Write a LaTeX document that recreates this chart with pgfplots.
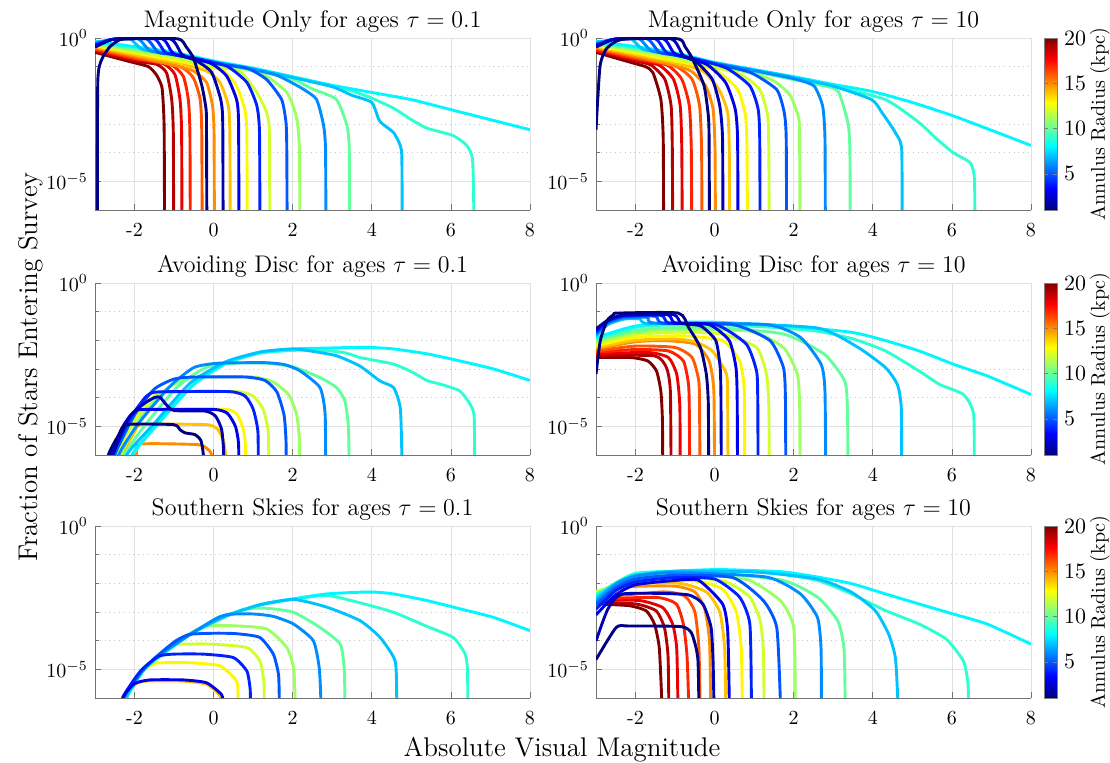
\documentclass[border=0pt]{standalone}
\usepackage{pgfplots}
\pgfplotsset{compat=1.18}
% jet colours for annulus radius 1..20 kpc
\definecolor{j1}{rgb}{0,0,0.5}
\definecolor{j2}{rgb}{0,0,0.71}
\definecolor{j3}{rgb}{0,0,0.92}
\definecolor{j4}{rgb}{0,0.13,1}
\definecolor{j5}{rgb}{0,0.34,1}
\definecolor{j6}{rgb}{0,0.55,1}
\definecolor{j7}{rgb}{0,0.76,1}
\definecolor{j8}{rgb}{0,0.97,1}
\definecolor{j9}{rgb}{0.18,1,0.82}
\definecolor{j10}{rgb}{0.39,1,0.61}
\definecolor{j11}{rgb}{0.61,1,0.39}
\definecolor{j12}{rgb}{0.82,1,0.18}
\definecolor{j13}{rgb}{1,0.97,0}
\definecolor{j14}{rgb}{1,0.76,0}
\definecolor{j15}{rgb}{1,0.55,0}
\definecolor{j16}{rgb}{1,0.34,0}
\definecolor{j17}{rgb}{1,0.13,0}
\definecolor{j18}{rgb}{0.92,0,0}
\definecolor{j19}{rgb}{0.71,0,0}
\definecolor{j20}{rgb}{0.5,0,0}
\pgfplotsset{
  colormap={jetm}{rgb(0cm)=(0,0,0.5) rgb(1cm)=(0,0,1) rgb(3cm)=(0,1,1) rgb(5cm)=(1,1,0) rgb(7cm)=(1,0,0) rgb(8cm)=(0.5,0,0)},
  panel/.style={
    scale only axis, width=217.5pt, height=86pt,
    xmin=-3, xmax=8, ymin=-6, ymax=0,
    xtick={-2,0,2,4,6,8}, xticklabels={-2,0,2,4,6,8},
    ytick={-5,0}, yticklabels={$10^{-5}$,$10^{0}$},
    minor ytick={-4,-3,-2,-1},
    grid=both,
    major grid style={black!12, line width=0.4pt},
    minor grid style={black!22, dotted, line width=0.4pt},
    axis x line*=bottom, axis y line*=left,
    axis line style={black!55, line width=0.4pt},
    tick style={black!55, line width=0.4pt},
    tick align=inside, major tick length=3pt, minor tick length=2pt,
    tick label style={font=\fontsize{10}{12}\selectfont},
    xticklabel style={yshift=-3pt},
    title style={anchor=base, yshift=-1pt, font=\fontsize{12}{14}\selectfont},
    every axis plot/.append style={line width=1.45pt, line join=round, no markers, smooth, tension=0.35},
  },
  cbar/.style={
    colorbar, colormap name=jetm, point meta min=1, point meta max=20,
    colorbar style={at={(parent axis.north east)}, anchor=north west, xshift=-2pt,
      width=6.5pt, ytick={5,10,15,20},
      yticklabel style={font=\fontsize{10.5}{12}\selectfont},
      ylabel={Annulus Radius (kpc)}, ylabel near ticks, yticklabel pos=right,
      ylabel shift=-5pt,
      ylabel style={font=\fontsize{10}{12}\selectfont},
      axis line style={black!50}, tick style={black!50}, major tick length=2pt},
  },
}
\newcommand\cv[2]{\addplot[draw=j#1] coordinates {#2};}

\begin{document}
\begin{tikzpicture}
\useasboundingbox (0pt,0pt) rectangle (555pt,-381.5pt);
\node[rotate=90, anchor=base, font=\fontsize{13.5}{16}\selectfont] at (18.5pt,-183.5pt) {Fraction of Stars Entering Survey};
\node[anchor=base, font=\fontsize{13.5}{16}\selectfont] at (281pt,-378.5pt) {Absolute Visual Magnitude};

% ---------------- Magnitude Only, tau = 0.1
\begin{axis}[panel, at={(47.5pt,-19pt)}, anchor=north west, title={Magnitude Only for ages $\tau = 0.1$}]
\cv{20}{(-3,-0.5)(-2.16,-0.81)(-1.65,-1.0)(-1.44,-1.3)(-1.31,-1.7)(-1.27,-2.4)(-1.25,-3.3)(-1.24,-7)}
\cv{19}{(-3,-0.46)(-2,-0.8)(-1.44,-0.92)(-1.19,-1.22)(-1.06,-2.15)(-1.02,-3.3)(-1.01,-7)}
\cv{18}{(-3,-0.43)(-2,-0.75)(-1.27,-0.9)(-0.98,-1.27)(-0.85,-2.15)(-0.81,-3.3)(-0.8,-7)}
\cv{17}{(-3,-0.4)(-2,-0.72)(-1.1,-0.92)(-0.77,-1.33)(-0.64,-2.15)(-0.6,-3.3)(-0.59,-7)}
\cv{16}{(-3,-0.36)(-2,-0.68)(-0.85,-1.0)(-0.51,-1.4)(-0.34,-2.15)(-0.3,-3.3)(-0.29,-7)}
\cv{15}{(-3,-0.33)(-2,-0.63)(-1,-0.95)(-0.51,-1.15)(-0.18,-1.55)(-0.03,-2.35)(0.01,-3.3)(0.02,-7)}
\cv{14}{(-3,-0.3)(-2,-0.58)(-1,-0.85)(-0.18,-1.15)(0.16,-1.55)(0.37,-2.35)(0.41,-3.3)(0.42,-7)}
\cv{13}{(-3,-0.27)(-2,-0.52)(-1,-0.78)(0,-1.05)(0.25,-1.15)(0.58,-1.67)(0.79,-2.5)(0.84,-3.3)(0.85,-7)}
\cv{12}{(-3,-0.24)(-2,-0.47)(-1,-0.7)(0,-1.0)(0.67,-1.17)(1.09,-1.9)(1.34,-2.6)(1.41,-3.3)(1.42,-7)}
\cv{11}{(-3,-0.21)(-2,-0.42)(-1,-0.63)(0,-0.93)(1.17,-1.21)(1.85,-1.9)(2.1,-2.8)(2.17,-3.9)(2.18,-7)}
\cv{10}{(-3,-0.18)(-2,-0.37)(-1,-0.58)(0,-0.88)(1,-1.12)(2,-1.44)(2.5,-1.78)(3.1,-2.14)(3.37,-3.05)(3.43,-3.9)(3.44,-7)}
\cv{9}{(-3,-0.15)(-2,-0.33)(-1,-0.53)(0,-0.83)(1,-1.08)(2,-1.38)(3,-1.68)(3.5,-1.85)(4,-2.1)(4.55,-2.45)(5,-2.85)(5.4,-3.15)(6.05,-3.4)(6.4,-3.75)(6.55,-4.3)(6.59,-7)}
\cv{8}{(-3,-0.12)(-2,-0.3)(-1,-0.5)(0,-0.8)(1,-1.05)(2,-1.35)(3,-1.65)(4,-1.9)(5,-2.15)(6,-2.5)(7,-2.85)(8,-3.2)}
\cv{7}{(-3,-0.15)(-2.6,-0.06)(-2.35,-0.03)(-2.1,-0.03)(-1.8,-0.4)(-1,-0.55)(0,-0.83)(1,-1.08)(2,-1.38)(3,-1.7)(3.5,-2.0)(4,-2.25)(4.2,-2.9)(4.55,-3.3)(4.72,-3.75)(4.76,-4.2)(4.77,-7)}
\cv{6}{(-3,-0.2)(-2.6,-0.06)(-2.35,-0.03)(-1.9,-0.03)(-1.6,-0.45)(-1,-0.57)(0,-0.85)(1,-1.1)(1.6,-1.3)(2.2,-1.73)(2.6,-2.14)(2.78,-3.05)(2.83,-3.9)(2.84,-7)}
\cv{5}{(-3,-0.22)(-2.6,-0.06)(-2.35,-0.03)(-1.7,-0.03)(-1.4,-0.5)(-1,-0.58)(0,-0.88)(0.84,-1.05)(1.34,-1.45)(1.72,-2.15)(1.83,-2.95)(1.85,-3.9)(1.86,-7)}
\cv{4}{(-3,-0.25)(-2.6,-0.06)(-2.35,-0.03)(-1.5,-0.03)(-1.2,-0.52)(-0.5,-0.7)(0.33,-0.98)(0.84,-1.55)(1.09,-2.35)(1.16,-3.3)(1.17,-7)}
\cv{3}{(-3,-0.28)(-2.6,-0.06)(-2.35,-0.03)(-1.3,-0.03)(-1.0,-0.55)(-0.09,-0.87)(0.33,-1.33)(0.58,-2.15)(0.63,-2.95)(0.64,-7)}
\cv{2}{(-3,-0.32)(-2.6,-0.06)(-2.35,-0.03)(-1.1,-0.03)(-0.8,-0.58)(-0.43,-0.8)(-0.05,-1.2)(0.18,-2.15)(0.23,-2.95)(0.24,-7)}
\cv{1}{(-2.94,-7)(-2.93,-1.55)(-2.83,-0.75)(-2.62,-0.3)(-2.37,-0.06)(-2.1,-0.03)(-0.9,-0.03)(-0.7,-0.3)(-0.51,-0.7)(-0.3,-1.65)(-0.19,-2.5)(-0.18,-3.3)(-0.17,-7)}
\end{axis}

% ---------------- Magnitude Only, tau = 10
\begin{axis}[panel, cbar, at={(298pt,-19pt)}, anchor=north west, title={Magnitude Only for ages $\tau = 10$}]
\cv{20}{(-3,-0.5)(-2.2,-0.82)(-1.75,-1.0)(-1.56,-1.21)(-1.36,-2.14)(-1.3,-3.5)(-1.29,-7)}
\cv{19}{(-3,-0.46)(-2,-0.8)(-1.6,-0.95)(-1.26,-1.44)(-1.1,-2.37)(-1.07,-3.9)(-1.06,-7)}
\cv{18}{(-3,-0.43)(-2,-0.76)(-1.4,-0.95)(-1.04,-1.44)(-0.87,-2.37)(-0.83,-3.9)(-0.82,-7)}
\cv{17}{(-3,-0.4)(-2,-0.72)(-1.2,-0.95)(-0.83,-1.44)(-0.64,-2.37)(-0.59,-3.9)(-0.58,-7)}
\cv{16}{(-3,-0.36)(-2,-0.68)(-1,-0.98)(-0.57,-1.44)(-0.38,-2.37)(-0.33,-3.9)(-0.32,-7)}
\cv{15}{(-3,-0.33)(-2,-0.63)(-1,-0.97)(-0.6,-1.15)(-0.23,-1.67)(-0.04,-2.48)(0.01,-3.9)(0.02,-7)}
\cv{14}{(-3,-0.3)(-2,-0.58)(-1,-0.87)(-0.3,-1.15)(0.11,-1.8)(0.33,-2.6)(0.37,-3.9)(0.38,-7)}
\cv{13}{(-3,-0.27)(-2,-0.52)(-1,-0.8)(0,-1.1)(0.58,-1.8)(0.78,-2.7)(0.82,-3.9)(0.83,-7)}
\cv{12}{(-3,-0.24)(-2,-0.47)(-1,-0.72)(0,-1.02)(0.7,-1.3)(1.14,-1.8)(1.34,-2.7)(1.37,-3.9)(1.38,-7)}
\cv{11}{(-3,-0.21)(-2,-0.42)(-1,-0.65)(0,-0.95)(1,-1.25)(1.5,-1.5)(1.91,-2.0)(2.13,-2.83)(2.15,-3.9)(2.16,-7)}
\cv{10}{(-3,-0.18)(-2,-0.37)(-1,-0.6)(0,-0.9)(1,-1.17)(2,-1.45)(2.7,-1.65)(3.12,-1.85)(3.37,-2.95)(3.42,-3.9)(3.43,-7)}
\cv{9}{(-3,-0.15)(-2,-0.33)(-1,-0.55)(0,-0.88)(1,-1.13)(2,-1.4)(3,-1.68)(4.32,-2.15)(5.17,-2.95)(5.6,-3.5)(6.03,-4.0)(6.46,-4.35)(6.57,-4.9)(6.58,-7)}
\cv{8}{(-3,-0.12)(-2,-0.3)(-1,-0.52)(0,-0.85)(1,-1.1)(2,-1.35)(3,-1.62)(4,-1.87)(5,-2.25)(6,-2.7)(7,-3.22)(8,-3.75)}
\cv{7}{(-3,-0.15)(-2.6,-0.06)(-2.35,-0.03)(-2.1,-0.03)(-1.8,-0.4)(-1,-0.57)(0,-0.87)(1,-1.12)(2,-1.38)(3,-1.68)(3.97,-2.15)(4.23,-2.6)(4.57,-3.3)(4.73,-3.9)(4.74,-7)}
\cv{6}{(-3,-0.2)(-2.6,-0.06)(-2.35,-0.03)(-1.9,-0.03)(-1.6,-0.45)(-1,-0.58)(0,-0.88)(1,-1.14)(2,-1.42)(2.51,-1.67)(2.73,-2.37)(2.79,-3.5)(2.8,-7)}
\cv{5}{(-3,-0.22)(-2.6,-0.06)(-2.35,-0.03)(-1.7,-0.03)(-1.4,-0.5)(-1,-0.6)(0,-0.9)(0.9,-1.2)(1.57,-1.8)(1.76,-2.6)(1.81,-3.5)(1.82,-7)}
\cv{4}{(-3,-0.25)(-2.6,-0.06)(-2.35,-0.03)(-1.5,-0.03)(-1.2,-0.52)(-0.5,-0.72)(0.3,-1.05)(0.89,-1.67)(1.1,-2.48)(1.14,-3.5)(1.15,-7)}
\cv{3}{(-3,-0.28)(-2.6,-0.06)(-2.35,-0.03)(-1.3,-0.03)(-1,-0.55)(-0.2,-0.92)(0.28,-1.56)(0.52,-2.48)(0.58,-3.5)(0.59,-7)}
\cv{2}{(-3,-0.32)(-2.6,-0.06)(-2.35,-0.03)(-1.1,-0.03)(-0.8,-0.6)(-0.45,-0.85)(-0.06,-1.44)(0.13,-2.37)(0.2,-3.5)(0.21,-7)}
\cv{1}{(-3,-3.2)(-2.9,-1.0)(-2.75,-0.4)(-2.5,-0.12)(-2.2,-0.03)(-0.92,-0.03)(-0.75,-0.3)(-0.57,-0.7)(-0.27,-1.65)(-0.16,-2.7)(-0.14,-3.5)(-0.13,-7)}
\end{axis}

% ---------------- Avoiding Disc, tau = 0.1
\begin{axis}[panel, at={(47.5pt,-141.5pt)}, anchor=north west, title={Avoiding Disc for ages $\tau = 0.1$}]
\cv{15}{(-2.0,-7)(-1.95,-6.0)(-1.86,-5.62)(-0.4,-5.64)(-0.15,-5.8)(-0.05,-6.0)(-0.04,-7)}
\cv{14}{(-2.35,-7)(-2.3,-6.0)(-2.0,-5.2)(-1.8,-4.94)(-0.2,-4.94)(0.1,-5.1)(0.25,-5.5)(0.3,-6.0)(0.31,-7)}
\cv{13}{(-2.55,-7)(-2.5,-6.0)(-2.1,-4.9)(-1.8,-4.45)(-1.4,-4.41)(0.3,-4.41)(0.6,-4.6)(0.75,-5.1)(0.8,-5.6)(0.81,-7)}
\cv{12}{(-2.5,-7)(-2.45,-6.0)(-2.0,-4.8)(-1.5,-3.95)(-1.1,-3.8)(0.6,-3.79)(1.0,-3.95)(1.25,-4.4)(1.38,-5.2)(1.4,-7)}
\cv{11}{(-2.4,-7)(-2.35,-6.0)(-1.85,-4.7)(-1.3,-3.8)(-0.8,-3.4)(-0.2,-3.28)(1.0,-3.28)(1.5,-3.45)(1.9,-3.9)(2.1,-4.6)(2.17,-5.5)(2.18,-7)}
\cv{10}{(-2.3,-7)(-2.25,-6.0)(-1.7,-4.9)(-0.9,-3.6)(-0.2,-2.95)(0.5,-2.8)(1.34,-2.8)(2.02,-2.93)(2.69,-3.3)(3.11,-3.65)(3.32,-4.12)(3.41,-5.06)(3.43,-7)}
\cv{9}{(-2.1,-7)(-2.05,-6.0)(-1.36,-4.85)(-0.51,-3.56)(0.33,-2.8)(1.17,-2.45)(2.02,-2.35)(2.86,-2.36)(3.37,-2.45)(3.7,-2.6)(4.55,-2.83)(5.05,-3.13)(5.39,-3.4)(5.81,-3.56)(6.23,-3.77)(6.49,-4.24)(6.59,-4.7)(6.6,-7)}
\cv{8}{(-2.12,-7)(-2.07,-6.0)(-1.36,-4.82)(-0.51,-3.54)(0.33,-2.78)(1.17,-2.42)(2.02,-2.3)(2.86,-2.27)(3.5,-2.25)(4.0,-2.25)(4.55,-2.3)(5.39,-2.47)(6.23,-2.72)(7.08,-3.0)(8,-3.4)}
\cv{7}{(-2.25,-7)(-2.2,-6.0)(-1.5,-4.9)(-0.6,-3.5)(0.3,-2.75)(1.2,-2.4)(2.0,-2.3)(2.44,-2.37)(3.11,-2.54)(3.7,-2.9)(4.21,-3.42)(4.55,-3.65)(4.72,-4.36)(4.76,-6.0)(4.77,-7)}
\cv{6}{(-2.45,-7)(-2.4,-6.0)(-1.9,-4.9)(-1.1,-3.6)(-0.5,-2.95)(0.1,-2.8)(1.3,-2.78)(1.8,-2.85)(2.19,-3.07)(2.69,-3.65)(2.82,-4.59)(2.83,-7)}
\cv{5}{(-2.55,-7)(-2.5,-6.0)(-2.0,-4.6)(-1.5,-3.7)(-1.0,-3.35)(-0.5,-3.28)(0.8,-3.28)(1.3,-3.4)(1.6,-3.8)(1.78,-4.6)(1.83,-5.5)(1.84,-7)}
\cv{4}{(-2.6,-7)(-2.55,-6.0)(-2.1,-4.7)(-1.7,-3.95)(-1.4,-3.8)(0.4,-3.79)(0.8,-3.95)(1.0,-4.4)(1.12,-5.2)(1.13,-7)}
\cv{3}{(-2.65,-7)(-2.6,-6.0)(-2.25,-4.9)(-1.95,-4.45)(-1.6,-4.41)(0.0,-4.41)(0.35,-4.55)(0.55,-5.0)(0.63,-5.6)(0.64,-7)}
\cv{2}{(-2.62,-7)(-2.55,-6.0)(-2.15,-4.7)(-1.75,-4.2)(-1.5,-4.0)(-1.36,-3.98)(-1.2,-4.24)(-1.0,-4.45)(-0.2,-4.47)(0.05,-4.65)(0.2,-5.1)(0.25,-5.8)(0.26,-7)}
\cv{1}{(-2.68,-7)(-2.66,-6.0)(-2.4,-5.3)(-2.2,-4.94)(-1.02,-4.94)(-0.85,-5.12)(-0.72,-5.23)(-0.47,-5.29)(-0.32,-5.5)(-0.26,-6.0)(-0.25,-7)}
\end{axis}

% ---------------- Avoiding Disc, tau = 10
\begin{axis}[panel, cbar, at={(298pt,-141.5pt)}, anchor=north west, title={Avoiding Disc for ages $\tau = 10$}]
\cv{20}{(-3,-2.6)(-2.12,-2.6)(-1.69,-2.72)(-1.47,-3.07)(-1.36,-3.77)(-1.32,-4.8)(-1.31,-7)}
\cv{19}{(-3,-2.54)(-1.52,-2.54)(-1.22,-2.95)(-1.12,-3.77)(-1.1,-7)}
\cv{18}{(-3,-2.48)(-1.69,-2.42)(-1.17,-2.6)(-0.96,-3.18)(-0.88,-4.3)(-0.87,-7)}
\cv{17}{(-3,-2.42)(-2,-2.32)(-1.17,-2.37)(-0.79,-2.72)(-0.66,-3.54)(-0.64,-4.5)(-0.63,-7)}
\cv{16}{(-3,-2.37)(-2,-2.2)(-1.0,-2.25)(-0.57,-2.6)(-0.4,-3.42)(-0.38,-4.5)(-0.37,-7)}
\cv{15}{(-3,-2.3)(-2,-2.05)(-1.26,-2.01)(-0.49,-2.13)(-0.14,-2.72)(-0.02,-3.77)(0,-7)}
\cv{14}{(-3,-2.25)(-2,-2.0)(-1,-1.95)(-0.5,-2.05)(-0.06,-2.37)(0.3,-3.18)(0.33,-4.3)(0.34,-7)}
\cv{13}{(-3,-2.19)(-2,-1.9)(-0.83,-1.84)(0.2,-2.01)(0.63,-2.72)(0.75,-3.77)(0.76,-7)}
\cv{12}{(-3,-2.1)(-2,-1.8)(-1,-1.72)(0.2,-1.78)(1.06,-2.25)(1.31,-3.18)(1.37,-4.3)(1.38,-7)}
\cv{11}{(-3,-2.05)(-2,-1.72)(-1,-1.62)(0.89,-1.68)(1.74,-2.25)(2.09,-3.18)(2.15,-4.3)(2.16,-7)}
\cv{10}{(-3,-2.0)(-2,-1.65)(-1,-1.55)(0.03,-1.55)(1.74,-1.78)(2.77,-2.48)(3.29,-3.42)(3.36,-4.5)(3.37,-7)}
\cv{9}{(-3,-1.95)(-2,-1.55)(-1,-1.45)(0,-1.45)(1.5,-1.55)(2.6,-1.68)(3.5,-1.95)(4.32,-2.37)(5.17,-3.07)(5.69,-3.54)(6.29,-3.89)(6.55,-4.59)(6.56,-7)}
\cv{8}{(-3,-1.9)(-2,-1.5)(-0.83,-1.37)(0.03,-1.37)(1.74,-1.49)(3.46,-1.72)(4.32,-2.01)(5.17,-2.37)(6.03,-2.83)(6.89,-3.24)(8,-3.89)}
\cv{7}{(-3,-1.85)(-2.7,-1.45)(-2.3,-1.26)(-1.9,-1.25)(-1.7,-1.42)(0,-1.4)(2.6,-1.57)(3.63,-2.25)(4.32,-2.95)(4.62,-3.54)(4.72,-4.36)(4.73,-7)}
\cv{6}{(-3,-1.8)(-2.7,-1.4)(-2.3,-1.22)(-1.7,-1.2)(-1.5,-1.4)(1.31,-1.45)(2.17,-1.9)(2.69,-2.83)(2.79,-3.77)(2.81,-7)}
\cv{5}{(-3,-1.75)(-2.7,-1.36)(-2.3,-1.18)(-1.5,-1.16)(-1.3,-1.4)(0.46,-1.45)(1.4,-2.01)(1.74,-2.95)(1.79,-4)(1.8,-7)}
\cv{4}{(-3,-1.7)(-2.7,-1.33)(-2.3,-1.15)(-1.35,-1.13)(-1.15,-1.4)(0.03,-1.45)(0.8,-2.13)(1.06,-3.07)(1.09,-4)(1.1,-7)}
\cv{3}{(-3,-1.65)(-2.7,-1.3)(-2.3,-1.12)(-1.2,-1.1)(-1.0,-1.4)(-0.14,-1.45)(0.37,-2.01)(0.54,-2.95)(0.57,-4)(0.58,-7)}
\cv{2}{(-3,-1.6)(-2.7,-1.3)(-2.3,-1.12)(-1.05,-1.1)(-0.85,-1.4)(-0.35,-1.5)(0.03,-2.01)(0.14,-2.95)(0.16,-4)(0.17,-7)}
\cv{1}{(-3,-3.18)(-2.89,-2.0)(-2.72,-1.31)(-2.55,-1.1)(-2.46,-1.05)(-0.92,-1.05)(-0.66,-1.55)(-0.36,-2.25)(-0.21,-3.18)(-0.16,-4.2)(-0.15,-7)}
\end{axis}

% ---------------- Southern Skies, tau = 0.1
\begin{axis}[panel, at={(47.5pt,-263pt)}, anchor=north west, title={Southern Skies for ages $\tau = 0.1$}]
\cv{14}{(-2.3,-7)(-2.25,-6.0)(-1.95,-5.5)(-1.7,-5.41)(-0.8,-5.41)(-0.18,-5.52)(0.15,-5.9)(0.2,-6.2)}
\cv{13}{(-2.3,-7)(-2.25,-6.0)(-1.8,-5.06)(-1.5,-4.8)(-1.27,-4.77)(-0.6,-4.77)(0.16,-4.88)(0.58,-5.41)(0.62,-6.0)(0.63,-7)}
\cv{12}{(-2.3,-7)(-2.25,-6.0)(-1.8,-5.06)(-1.36,-4.5)(-1.0,-4.15)(-0.68,-4.12)(-0.09,-4.12)(0.84,-4.24)(1.17,-4.71)(1.27,-5.41)(1.28,-6.0)(1.29,-7)}
\cv{11}{(-2.3,-7)(-2.25,-6.0)(-1.8,-5.06)(-1.36,-4.5)(-0.9,-4.0)(-0.4,-3.6)(-0.09,-3.48)(0.5,-3.48)(1.34,-3.59)(1.85,-4.24)(2.02,-4.94)(2.06,-6.0)(2.07,-7)}
\cv{10}{(-2.3,-7)(-2.25,-6.0)(-1.8,-5.06)(-1.36,-4.5)(-0.51,-3.72)(0.33,-3.15)(0.77,-2.9)(1.34,-2.87)(2.02,-3.01)(2.69,-3.54)(3.2,-4.12)(3.3,-4.94)(3.32,-6.0)(3.33,-7)}
\cv{9}{(-2.25,-7)(-2.2,-6.0)(-1.78,-5.06)(-1.36,-4.5)(-0.51,-3.71)(0.33,-3.13)(1.17,-2.76)(2.02,-2.56)(2.86,-2.42)(3.7,-2.68)(4.55,-3.01)(5.39,-3.5)(6.06,-3.89)(6.36,-4.47)(6.42,-5.06)(6.43,-7)}
\cv{8}{(-2.25,-7)(-2.2,-6.0)(-1.78,-5.06)(-1.36,-4.55)(-0.51,-3.71)(0.33,-3.13)(1.17,-2.74)(2.02,-2.54)(2.86,-2.37)(3.7,-2.31)(4.12,-2.31)(4.55,-2.37)(5.39,-2.6)(6.23,-2.89)(7.08,-3.19)(8,-3.65)}
\cv{7}{(-2.27,-7)(-2.22,-6.0)(-1.8,-5.06)(-1.36,-4.5)(-0.51,-3.71)(0.33,-3.13)(1.17,-2.75)(2.02,-2.56)(2.86,-2.83)(3.7,-3.3)(4.21,-3.89)(4.59,-4.71)(4.63,-6.0)(4.64,-7)}
\cv{6}{(-2.3,-7)(-2.27,-6.0)(-1.82,-5.06)(-1.38,-4.5)(-0.53,-3.72)(0.1,-3.2)(0.4,-3.08)(1.0,-3.07)(1.5,-3.15)(2.02,-3.42)(2.52,-4.0)(2.67,-4.94)(2.71,-6.0)(2.72,-7)}
\cv{5}{(-2.32,-7)(-2.28,-6.0)(-1.82,-5.06)(-1.4,-4.5)(-0.95,-4.0)(-0.6,-3.78)(0.08,-3.74)(0.6,-3.76)(1.17,-3.89)(1.51,-4.47)(1.64,-5.18)(1.66,-6.0)(1.67,-7)}
\cv{4}{(-2.35,-7)(-2.3,-6.0)(-1.85,-5.06)(-1.4,-4.55)(-1.02,-4.47)(-0.26,-4.47)(0.5,-4.59)(0.84,-5.06)(0.92,-5.64)(0.93,-6.0)(0.94,-7)}
\cv{3}{(-2.35,-7)(-2.3,-6.0)(-2.0,-5.5)(-1.61,-5.37)(-0.77,-5.37)(-0.18,-5.47)(0.2,-5.88)(0.24,-6.2)}
\end{axis}

% ---------------- Southern Skies, tau = 10
\begin{axis}[panel, cbar, at={(298pt,-263pt)}, anchor=north west, title={Southern Skies for ages $\tau = 10$}]
\cv{20}{(-3,-2.72)(-2.16,-2.78)(-1.73,-2.96)(-1.52,-3.43)(-1.4,-4.25)(-1.34,-6.0)(-1.33,-7)}
\cv{19}{(-3,-2.66)(-1.99,-2.72)(-1.48,-2.96)(-1.27,-3.54)(-1.18,-4.49)(-1.16,-6.0)(-1.15,-7)}
\cv{18}{(-3,-2.6)(-1.9,-2.6)(-1.31,-2.85)(-1.06,-3.43)(-0.96,-4.25)(-0.93,-6.0)(-0.92,-7)}
\cv{17}{(-3,-2.55)(-1.48,-2.49)(-0.97,-2.72)(-0.79,-3.43)(-0.7,-4.5)(-0.66,-6.0)(-0.65,-7)}
\cv{16}{(-3,-2.5)(-1.3,-2.3)(-0.75,-2.45)(-0.5,-3.0)(-0.4,-4.2)(-0.37,-6.0)(-0.36,-7)}
\cv{15}{(-3,-2.4)(-2.16,-2.12)(-1.0,-2.1)(-0.5,-2.3)(-0.25,-2.9)(-0.13,-4.0)(-0.1,-6.0)(-0.09,-7)}
\cv{14}{(-3,-2.35)(-2.16,-2.02)(-0.89,-2.0)(-0.21,-2.3)(0.13,-3.0)(0.25,-4.2)(0.28,-6.0)(0.29,-7)}
\cv{13}{(-3,-2.3)(-2,-1.95)(-0.5,-1.92)(0.2,-2.2)(0.55,-3.0)(0.67,-4.2)(0.7,-6.0)(0.71,-7)}
\cv{12}{(-3,-2.3)(-2,-1.88)(-0.5,-1.82)(0.3,-1.95)(0.89,-2.48)(1.15,-3.3)(1.23,-4.3)(1.25,-6.0)(1.26,-7)}
\cv{11}{(-3,-2.35)(-2,-1.8)(0,-1.75)(0.89,-1.9)(1.66,-2.6)(2.0,-3.54)(2.04,-6.0)(2.05,-7)}
\cv{10}{(-3,-2.4)(-2,-1.72)(0,-1.65)(1.74,-1.9)(2.6,-2.48)(3.11,-3.3)(3.27,-4.24)(3.3,-6.0)(3.31,-7)}
\cv{9}{(-3,-2.45)(-2,-1.65)(0,-1.57)(1.5,-1.65)(2.6,-1.9)(3.46,-2.37)(4.32,-2.95)(5.17,-3.42)(5.86,-3.95)(6.29,-4.71)(6.4,-5.41)(6.42,-6.0)(6.43,-7)}
\cv{8}{(-3,-2.42)(-2.12,-1.9)(-1.26,-1.6)(0.03,-1.52)(0.89,-1.55)(1.74,-1.6)(2.6,-1.78)(3.46,-2.01)(4.32,-2.37)(5.17,-2.72)(6.03,-3.07)(6.89,-3.42)(8,-4.12)}
\cv{7}{(-3,-2.55)(-2.5,-2.0)(-2,-1.72)(-1,-1.58)(1,-1.6)(2.6,-1.85)(3.46,-2.31)(4.06,-2.95)(4.4,-3.77)(4.57,-4.59)(4.63,-6.0)(4.64,-7)}
\cv{6}{(-3,-2.65)(-2.5,-2.05)(-2,-1.75)(-1,-1.62)(1.31,-1.78)(2.17,-2.37)(2.6,-3.19)(2.69,-4.24)(2.7,-6.0)(2.71,-7)}
\cv{5}{(-3,-2.75)(-2.5,-2.15)(-2,-1.85)(-1,-1.72)(0.46,-1.8)(1.23,-2.6)(1.57,-3.54)(1.66,-6.0)(1.67,-7)}
\cv{4}{(-3,-2.9)(-2.5,-2.25)(-2,-1.95)(-1,-1.8)(0,-1.85)(0.63,-2.48)(0.89,-3.42)(0.93,-6.0)(0.94,-7)}
\cv{3}{(-3,-3.1)(-2.5,-2.4)(-2,-2.05)(-1,-1.9)(-0.4,-1.9)(0.2,-2.72)(0.33,-3.65)(0.37,-6.0)(0.38,-7)}
\cv{2}{(-3,-4.01)(-2.7,-2.9)(-2.32,-2.37)(-0.72,-2.39)(-0.3,-2.72)(-0.09,-3.54)(-0.04,-4.72)(-0.02,-6.0)(-0.01,-7)}
\cv{1}{(-3,-4.66)(-2.49,-3.54)(-2.16,-3.49)(-0.85,-3.51)(-0.59,-3.72)(-0.47,-4.25)(-0.42,-4.72)(-0.4,-6.0)(-0.39,-7)}
\end{axis}
\end{tikzpicture}
\end{document}
